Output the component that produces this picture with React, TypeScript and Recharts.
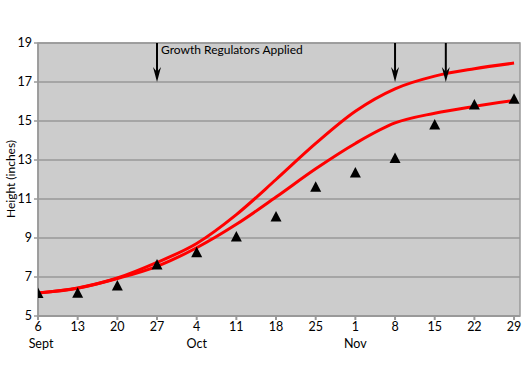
import React from 'react';
import {
  ComposedChart,
  Line,
  Scatter,
  XAxis,
  YAxis,
  CartesianGrid,
  ReferenceLine,
  ReferenceArea,
  Label
} from 'recharts';

// week index -> day label / month label
const dayLabels = ['6', '13', '20', '27', '4', '11', '18', '25', '1', '8', '15', '22', '29'];
const monthLabels = ['Sept', '', '', '', 'Oct', '', '', '', 'Nov', '', '', '', ''];

// heights in inches
const upperCurve = [6.18, 6.44, 6.95, 7.75, 8.72, 10.2, 12.0, 13.85, 15.5, 16.65, 17.3, 17.68, 17.97];
const lowerCurve = [6.18, 6.42, 6.92, 7.55, 8.5, 9.7, 11.1, 12.55, 13.85, 14.9, 15.4, 15.75, 16.05];
const measured = [6.15, 6.17, 6.54, 7.62, 8.25, 9.05, 10.08, 11.6, 12.33, 13.08, 14.8, 15.82, 16.12];

// growth regulator applications (week index)
const applications = [3, 9, 10.28];
const applicationText = 'Growth Regulators Applied';

const yTicks = [5, 7, 9, 11, 13, 15, 17, 19];

const data = dayLabels.map((d, i) => ({
  x: i,
  upper: upperCurve[i],
  lower: lowerCurve[i],
  measured: measured[i]
}));

const FONT = 'Lato, "Open Sans", sans-serif';

const Triangle = (props: any) => {
  const { cx, cy } = props;
  if (cx == null || cy == null) return null;
  return (
    <polygon
      points={`${cx - 5.5},${cy + 4.5} ${cx + 5.5},${cy + 4.5} ${cx},${cy - 6}`}
      fill="#000"
    />
  );
};

const XTick = (props: any) => {
  const { x, y, payload } = props;
  const i = payload.value;
  return (
    <g>
      <text x={x} y={y} dy="0.71em" textAnchor="middle" fontSize={12.5} fontFamily={FONT} fill="#000">
        {dayLabels[i]}
      </text>
      {monthLabels[i] && (
        <text x={x + (i === 0 ? 3 : 0)} y={y + 17} dy="0.71em" textAnchor="middle" fontSize={12.5} fontFamily={FONT} fill="#000">
          {monthLabels[i]}
        </text>
      )}
    </g>
  );
};

const makeArrow = (withText: boolean) => (props: any) => {
  const { x1, y1, x2, y2 } = props;
  if (x1 == null) return null;
  const top = Math.min(y1, y2);
  const tip = Math.max(y1, y2);
  return (
    <g>
      <line x1={x1} y1={top} x2={x1} y2={tip - 8} stroke="#000" strokeWidth={2} />
      <polygon points={`${x1 - 4},${tip - 15} ${x1},${tip - 10} ${x1 + 4},${tip - 15} ${x1},${tip}`} fill="#000" />
      {withText && (
        <text x={x1 + 4} y={top + 11} fontSize={12} fontFamily={FONT} fill="#000">
          {applicationText}
        </text>
      )}
    </g>
  );
};

export default function App() {
  return (
    <div style={{ position: 'absolute', left: 0, top: 0, width: 525, height: 366, background: '#fff' }}>
      <ComposedChart width={525} height={366} data={data} margin={{ top: 43, right: 5, bottom: 10, left: 0 }}>
        <CartesianGrid horizontal vertical={false} stroke="#999" strokeWidth={1.5} fill="#cccccc" />
        <ReferenceArea x1={0} x2={12.15} y1={5} y2={19} fill="none" stroke="#999" strokeWidth={1.5} />
        <XAxis
          type="number"
          dataKey="x"
          domain={[0, 12.15]}
          ticks={dayLabels.map((_, i) => i)}
          tick={<XTick />}
          tickSize={4}
          tickMargin={2}
          height={40}
          stroke="#999"
          strokeWidth={2}
          allowDataOverflow
        />
        <YAxis
          type="number"
          domain={[5, 19]}
          ticks={yTicks}
          width={38}
          tickSize={4}
          tickMargin={2}
          stroke="#999"
          strokeWidth={1.5}
          tick={{ fill: '#000', fontSize: 12.5, fontFamily: FONT }}
        >
          <Label
            content={() => (
              <text
                x={15}
                y={179}
                transform="rotate(-90 15 179)"
                textAnchor="middle"
                fontSize={12}
                fontFamily={FONT}
                fill="#000"
              >
                Height (inches)
              </text>
            )}
          />
        </YAxis>
        <Line type="monotone" dataKey="upper" stroke="#ff0000" strokeWidth={3} dot={false} isAnimationActive={false} />
        <Line type="monotone" dataKey="lower" stroke="#ff0000" strokeWidth={3} dot={false} isAnimationActive={false} />
        <Scatter dataKey="measured" shape={<Triangle />} isAnimationActive={false} />
        {applications.map((ax, i) => (
          <ReferenceLine
            key={i}
            segment={[{ x: ax, y: 19 }, { x: ax, y: 17 }]}
            shape={makeArrow(i === 0)}
          />
        ))}
      </ComposedChart>
    </div>
  );
}
